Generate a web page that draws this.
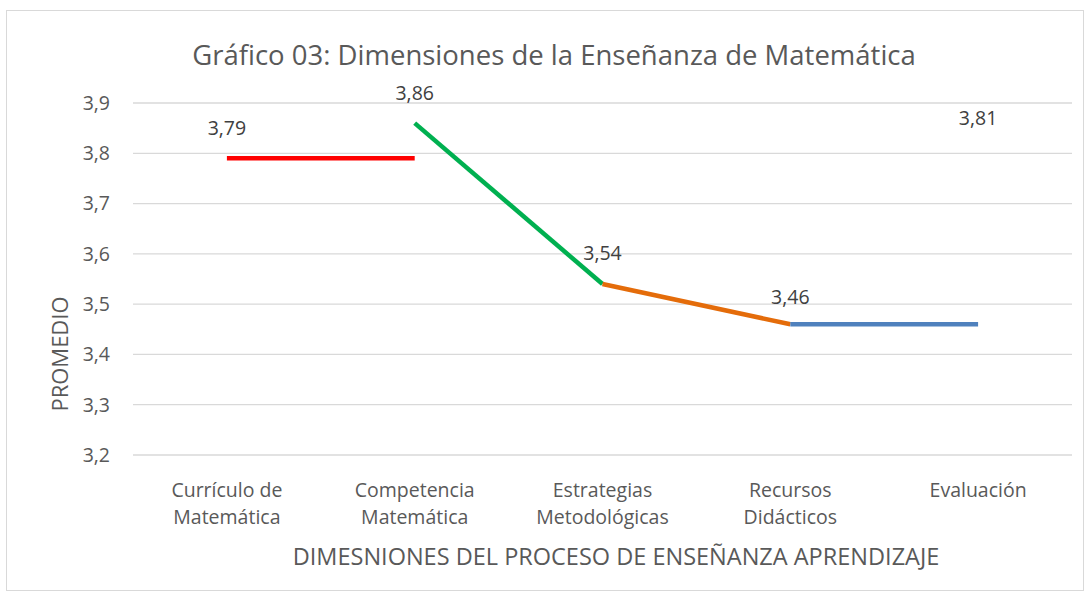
<!DOCTYPE html>
<html>
<head>
<meta charset="utf-8">
<script src="https://cdn.jsdelivr.net/npm/d3@7"></script>
<style>
  body { margin: 0; background: #fff; }
  svg text { font-family: "Open Sans", "Noto Sans", sans-serif; fill: #595959; }
</style>
</head>
<body>
<div class="chart"></div>
<script>
// Data
let categories = [
  ["Currículo de", "Matemática"],
  ["Competencia", "Matemática"],
  ["Estrategias", "Metodológicas"],
  ["Recursos", "Didácticos"],
  ["Evaluación"]
];
let labelValues = [3.79, 3.86, 3.54, 3.46, 3.81];
let segStart = [0, 1, 2, 3];
let segFrom = [3.79, 3.86, 3.54, 3.46];
let segTo = [3.79, 3.54, 3.46, 3.46];
let segColors = ["#ff0000", "#00b050", "#e46c0a", "#4f81bd"];
let yTicks = [3.2, 3.3, 3.4, 3.5, 3.6, 3.7, 3.8, 3.9];

let width = 1089;
let height = 596;
let margin = { top: 103, right: 17, bottom: 141, left: 133 };
let fmt = (v, d) => v.toFixed(d).replace(".", ",");

let svg = d3
  .select(".chart")
  .append("svg")
  .attr("width", width)
  .attr("height", height);

// chart border
svg
  .append("rect")
  .attr("x", 6.5)
  .attr("y", 10.5)
  .attr("width", 1077)
  .attr("height", 580)
  .attr("fill", "#fff")
  .attr("stroke", "#d9d9d9");

let x = d3
  .scaleBand()
  .domain(d3.range(categories.length))
  .range([margin.left, width - margin.right]);
let y = d3
  .scaleLinear()
  .domain([3.2, 3.9])
  .range([height - margin.bottom, margin.top]);

// Gridlines
svg
  .append("g")
  .selectAll("line")
  .data(yTicks)
  .enter()
  .append("line")
  .attr("x1", margin.left)
  .attr("x2", width - margin.right)
  .attr("y1", (d) => y(d))
  .attr("y2", (d) => y(d))
  .attr("stroke", "#d9d9d9")
  .attr("stroke-width", 1.3);

// Y tick labels
svg
  .append("g")
  .selectAll("text")
  .data(yTicks)
  .enter()
  .append("text")
  .attr("x", 110)
  .attr("y", (d) => y(d))
  .attr("dy", "0.35em")
  .attr("text-anchor", "end")
  .style("font-size", "19.5px")
  .text((d) => fmt(d, 1));

// Category labels
let cat = svg
  .append("g")
  .selectAll("text")
  .data(categories)
  .enter()
  .append("text")
  .attr("text-anchor", "middle")
  .style("font-size", "19.5px")
  .attr("transform", (d, i) => `translate(${x(i) + x.bandwidth() / 2},497)`);
cat
  .selectAll("tspan")
  .data((d) => d)
  .enter()
  .append("tspan")
  .attr("x", 0)
  .attr("dy", (d, i) => (i === 0 ? 0 : 27))
  .text((d) => d);

// Line segments
svg
  .append("g")
  .selectAll("line")
  .data(segStart)
  .enter()
  .append("line")
  .attr("x1", (d) => x(d) + x.bandwidth() / 2)
  .attr("x2", (d) => x(d + 1) + x.bandwidth() / 2)
  .attr("y1", (d, i) => y(segFrom[i]))
  .attr("y2", (d, i) => y(segTo[i]))
  .attr("stroke", (d, i) => segColors[i])
  .attr("stroke-width", 4.5);

// Data labels
let labelOffset = [-30, -30, -31, -27, -30];
svg
  .append("g")
  .selectAll("text")
  .data(labelValues)
  .enter()
  .append("text")
  .attr("x", (d, i) => x(i) + x.bandwidth() / 2)
  .attr("y", (d, i) => y(d) + labelOffset[i])
  .attr("dy", "0.35em")
  .attr("text-anchor", "middle")
  .style("font-size", "19.5px")
  .style("fill", "#404040")
  .text((d) => fmt(d, 2));

// Title
svg
  .append("text")
  .attr("x", 554)
  .attr("y", 55)
  .attr("dy", "0.35em")
  .attr("text-anchor", "middle")
  .style("font-size", "27.5px")
  .text("Gráfico 03: Dimensiones de la Enseñanza de Matemática");

// Axis titles
svg
  .append("text")
  .attr("x", 616)
  .attr("y", 557)
  .attr("dy", "0.35em")
  .attr("text-anchor", "middle")
  .style("font-size", "23.5px")
  .text("DIMESNIONES DEL PROCESO DE ENSEÑANZA APRENDIZAJE");

svg
  .append("text")
  .attr("transform", "translate(60,354) rotate(-90)")
  .attr("dy", "0.35em")
  .attr("text-anchor", "middle")
  .style("font-size", "22px")
  .text("PROMEDIO");
</script>
</body>
</html>
